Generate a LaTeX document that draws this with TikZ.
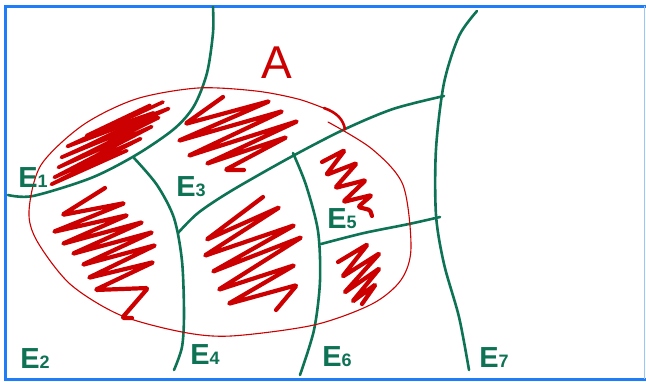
\documentclass[tikz,border=0pt]{standalone}
\usepackage{fontspec}
\setmainfont{Liberation Sans}
\usetikzlibrary{positioning}
\definecolor{partgreen}{HTML}{0E7355}
\definecolor{eventred}{HTML}{CC0000}
\definecolor{frameblue}{HTML}{1E7DF7}
\definecolor{framelight}{HTML}{9CC6FA}
\newcommand{\evlab}[1]{E{\fontsize{18}{18}\selectfont #1}}

\begin{document}
\begin{tikzpicture}[x=1pt, y=-1pt,
  part/.style={draw=partgreen, line width=2.6pt, line cap=round},
  rim/.style={draw=eventred, line width=1.1pt, line cap=round},
  hatch/.style={draw=eventred, line width=4.2pt, line cap=round, line join=round, rounded corners=1.5pt},
  lab/.style={text=partgreen, font=\fontsize{29}{29}\selectfont\bfseries, inner sep=0pt}]
\fill[white] (0,0) rectangle (646,381);
\useasboundingbox (0,0) rectangle (646,381);
% frame
\draw[frameblue, line width=3pt] (4,6.5) -- (646,6.5);
\draw[frameblue, line width=3pt] (5.5,5) -- (5.5,380);
\draw[frameblue, line width=2.5pt] (4,379.5) -- (646,379.5);
\draw[framelight, line width=1.2pt] (644.5,6) -- (644.5,379);
% partition E1..E7
\draw[part] plot[smooth] coordinates {(213,7) (213,33) (207,73) (194,106) (174,129) (136,155) (91,178) (33,196) (8,195)};
\draw[part] plot[smooth] coordinates {(134,158) (157,185) (174,218) (182,261) (184,314) (182,347) (174,370)};
\draw[part] plot[smooth] coordinates {(178,233) (198,213) (231,191) (289,158) (343,130) (393,109) (444,96)};
\draw[part] plot[smooth] coordinates {(293,153) (306,185) (318,231) (320,281) (314,330) (300,375)};
\draw[part] plot[smooth] coordinates {(321,244) (364,233) (409,224) (440,217)};
\draw[part] plot[smooth] coordinates {(477,11) (459,36) (444,83) (436,149) (436,215) (444,264) (459,317) (469,370)};
% event A
\draw[rim] plot[smooth] coordinates {(328,122) (372,149) (403,185) (411,248) (401,280) (372,304) (314,325) (231,336) (182,332) (120,315) (70,284) (37,241) (29,211) (41,165) (83,125) (136,99) (198,88) (256,91) (298,99) (326,109)};
\draw[rim, line width=2.6pt] (324,108) .. controls (338,113) and (343,120) .. (345,129);
% shading of A in each part
\draw[hatch, line width=3.6pt] (163,102) -- (66,147) -- (170,108) -- (60,158) -- (160,117) -- (57,168) -- (153,126) -- (53,178) -- (142,138) -- (50,185) -- (128,150) -- (70,176);
\draw[hatch, line width=3pt] (150,105) -- (85,136) -- (155,112) -- (78,150);
\draw[hatch] (223,97) -- (185,124) -- (270,101) -- (178,141) -- (283,111) -- (188,156) -- (298,121) -- (206,164) -- (287,137) -- (225,170) -- (244,170);
\draw[hatch] (105,188) -- (62,215) -- (125,203) -- (53,232) -- (128,215) -- (62,244) -- (143,222) -- (72,254) -- (153,232) -- (82,265) -- (156,245) -- (88,278) -- (154,262) -- (95,290) -- (148,288) -- (122,318) -- (132,318);
\draw[hatch] (263,197) -- (206,240) -- (280,207) -- (204,256) -- (295,225) -- (212,272) -- (302,237) -- (218,290) -- (295,265) -- (228,304) -- (297,285) -- (276,310);
\draw[hatch] (322,162) -- (345,150) -- (326,175) -- (357,163) -- (335,188) -- (366,180) -- (343,202) -- (372,195) -- (358,207) -- (370,210) -- (372,216);
\draw[hatch] (338,262) -- (368,244) -- (342,277) -- (380,253) -- (344,293) -- (380,268) -- (352,302) -- (376,284) -- (362,304);
% labels
\node[text=eventred, font=\fontsize{46}{46}\selectfont, inner sep=0pt] (a) at (277,63) {A};
\node[lab] (e1) at (33,178) {\evlab{1}};
\node[lab] (e2) at (35,359) {\evlab{2}};
\node[lab] (e3) at (191,187) {\evlab{3}};
\node[lab] (e4) at (205,355) {\evlab{4}};
\node[lab] (e5) at (342,219) {\evlab{5}};
\node[lab] (e6) at (337,357) {\evlab{6}};
\node[lab] (e7) at (494,358) {\evlab{7}};
\end{tikzpicture}
\end{document}
